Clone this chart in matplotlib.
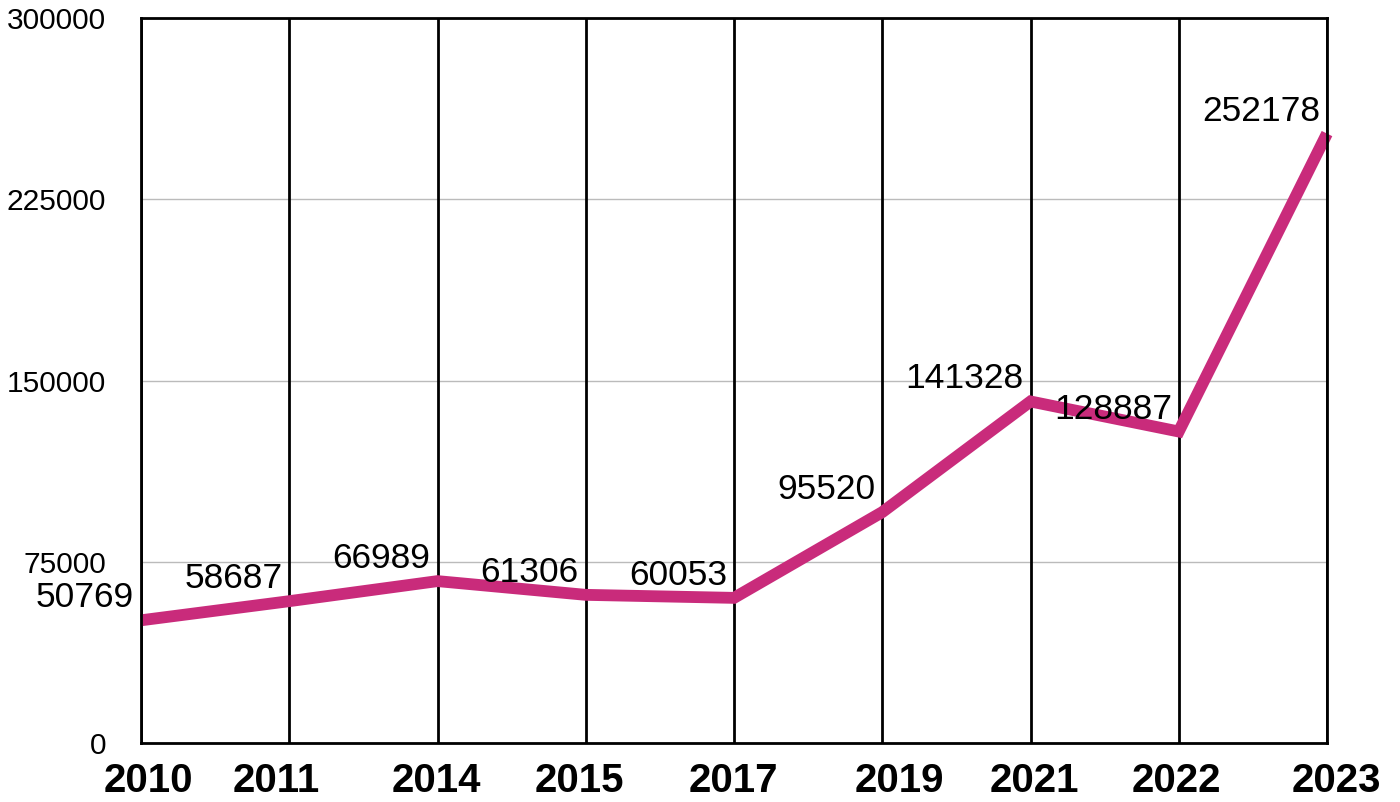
import matplotlib.pyplot as plt
import matplotlib.transforms as mtransforms
import numpy as np

years = ['2010', '2011', '2014', '2015', '2017', '2019', '2021', '2022', '2023']
values = [50769, 58687, 66989, 61306, 60053, 95520, 141328, 128887, 252178]
y_ticks = [0, 75000, 150000, 225000, 300000]

# small horizontal nudges of the year labels (px), as in the original
label_nudge = [7, -13, -1, -6, -1, 17, 4, -2, 9]

plt.rcParams['font.family'] = ['Liberation Sans', 'DejaVu Sans']

fig = plt.figure(figsize=(14, 8.02), dpi=100)
ax = fig.add_axes([141 / 1400, 1 - 743 / 802, (1327 - 141) / 1400, (743 - 18) / 802])

x = np.arange(len(years))

# horizontal grid grey, vertical lines black
for t in y_ticks:
    ax.axhline(t, color='#bbbbbb', lw=1, zorder=1)
for xi in x:
    ax.axvline(xi, color='black', lw=2, zorder=2)

ax.plot(x, values, color='#c92b7b', lw=8.5, solid_capstyle='butt',
        solid_joinstyle='miter', zorder=3, clip_on=False)

for xi, v in zip(x, values):
    ax.annotate(str(v), (xi, v), xytext=(-7, 13), textcoords='offset pixels',
                ha='right', va='baseline', fontsize=25.5, color='black', zorder=4)

ax.set_xlim(0, len(years) - 1)
ax.set_ylim(0, 300000)
ax.set_xticks(x)
ax.set_xticklabels(years, fontsize=29, fontweight='bold')
ax.set_yticks(y_ticks)
ax.set_yticklabels([str(t) for t in y_ticks], fontsize=21.5)
ax.tick_params(axis='x', length=0, pad=14)
ax.tick_params(axis='y', length=0, pad=25)

for lab, dx in zip(ax.get_xticklabels(), label_nudge):
    lab.set_transform(lab.get_transform() +
                      mtransforms.ScaledTranslation(dx / 100, 0, fig.dpi_scale_trans))

for s in ax.spines.values():
    s.set_linewidth(2)
    s.set_color('black')
    s.set_zorder(5)

fig.savefig('out.png', dpi=100, facecolor='white')
